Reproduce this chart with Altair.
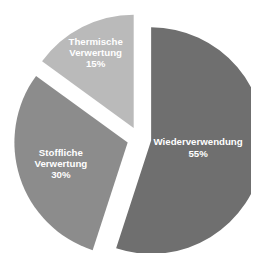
import altair as alt
import pandas as pd

categories = ["Wiederverwendung", "Stoffliche Verwertung", "Thermische Verwertung"]
values = [55, 30, 15]
labels = ["Wiederverwendung\n55%", "Stoffliche\nVerwertung\n30%", "Thermische\nVerwertung\n15%"]
colors = ["#6f6f6f", "#8c8c8c", "#bababa"]

df = pd.DataFrame({"cat": categories, "value": values, "label": labels, "order": [0, 1, 2]})

CX, CY, R, D = 135.5, 131, 117, 12.5
LH = 11.5

base = alt.Chart(df).transform_window(
    cum="sum(value)", sort=[alt.SortField("order")]
).transform_joinaggregate(total="sum(value)").transform_calculate(
    a0="(datum.cum - datum.value) / datum.total * 2 * PI",
    a1="datum.cum / datum.total * 2 * PI",
).transform_calculate(
    mid="(datum.a0 + datum.a1) / 2",
    share="datum.value / datum.total",
    nl="length(split(datum.label, '\\n'))",
).transform_calculate(
    cx=f"{CX} + {D} * sin(datum.mid)",
    cy=f"{CY} - {D} * cos(datum.mid)",
    lr=f"{R} * (0.86 - 0.8 * datum.share)",
).transform_calculate(
    lx="datum.cx + datum.lr * sin(datum.mid)",
    ly=f"datum.cy - datum.lr * cos(datum.mid) - (datum.nl - 1) * {LH} / 2",
)

arcs = base.mark_arc(outerRadius=R, stroke=None).encode(
    theta=alt.Theta("a0:Q", scale=None, stack=None),
    theta2="a1:Q",
    x=alt.X("cx:Q", scale=None),
    y=alt.Y("cy:Q", scale=None),
    color=alt.Color("cat:N", scale=alt.Scale(domain=categories, range=colors), legend=None),
)

text = base.mark_text(
    font="Liberation Sans", fontWeight="bold", fontSize=10, color="white",
    lineBreak="\n", lineHeight=LH, align="center", baseline="middle",
).encode(
    x=alt.X("lx:Q", scale=None),
    y=alt.Y("ly:Q", scale=None),
    text="label:N",
)

chart = alt.layer(arcs, text).properties(
    width=251, height=245, autosize="none", padding=0, background="white"
).configure_view(stroke=None)

chart.save("out.html", embed_options={"renderer": "svg", "actions": False})
